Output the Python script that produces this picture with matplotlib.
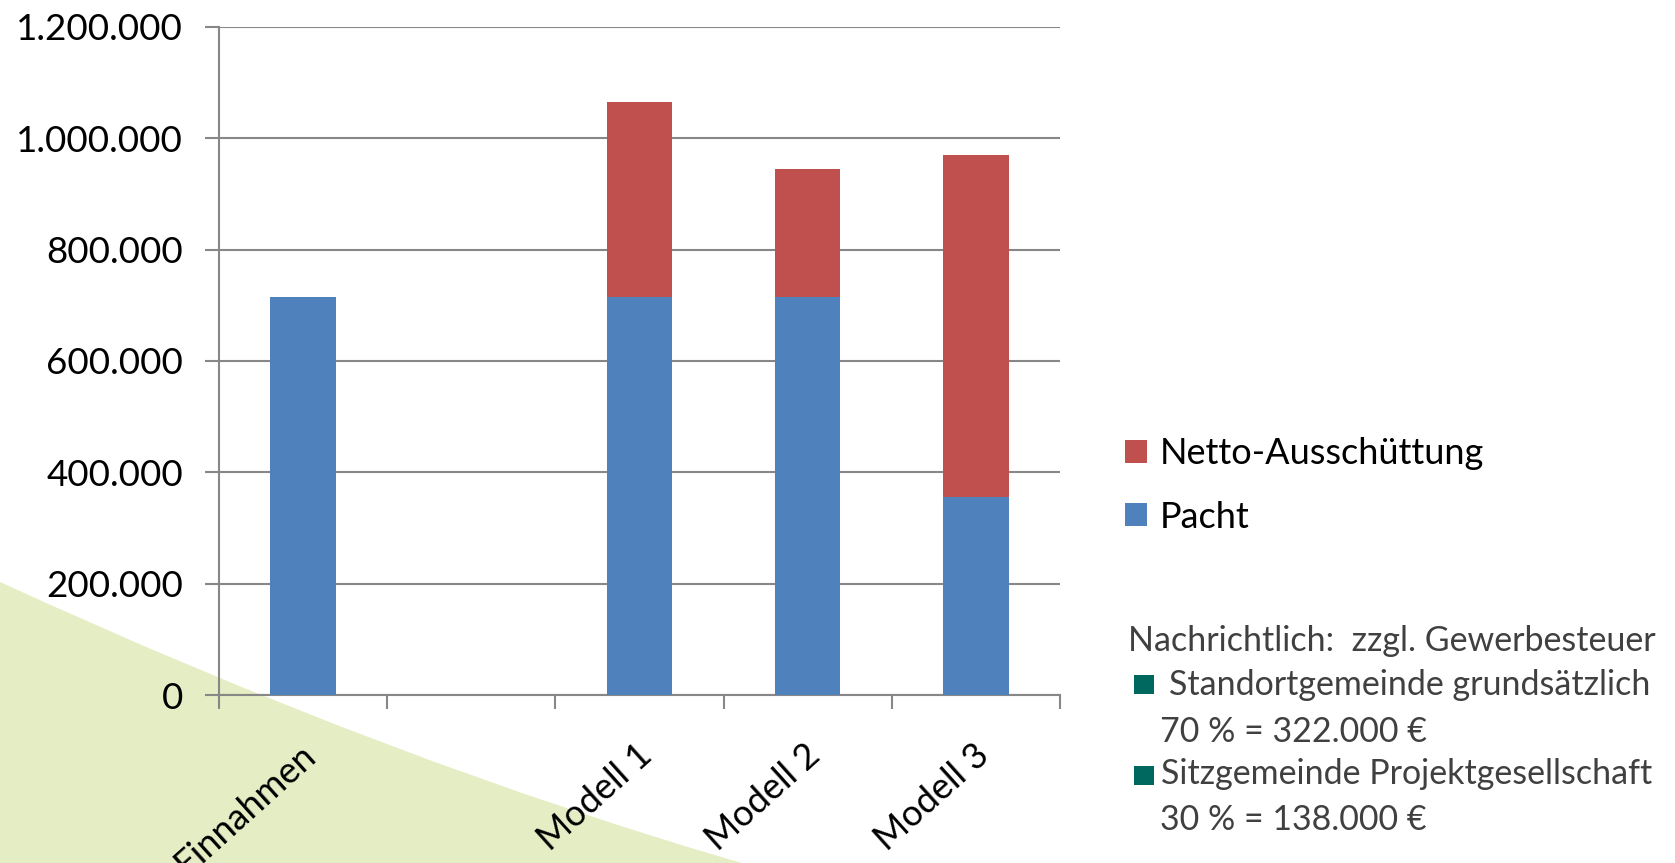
import numpy as np
import matplotlib.pyplot as plt
import matplotlib.transforms as mtrans
from matplotlib.patches import PathPatch, Rectangle
from matplotlib.path import Path
from matplotlib.ticker import FuncFormatter

plt.rcParams['font.family'] = ['Lato', 'DejaVu Sans']

# data
categories = ['Einnahmen', '', 'Modell 1', 'Modell 2', 'Modell 3']
pacht = [715000, 0, 715000, 715000, 355000]
netto = [0, 0, 350000, 230000, 615000]
y_ticks = [0, 200000, 400000, 600000, 800000, 1000000, 1200000]

note_head = 'Nachrichtlich:  zzgl. Gewerbesteuer'
note_items = ['Standortgemeinde grundsätzlich', 'Sitzgemeinde Projektgesellschaft']
note_values = ['70 % = 322.000 €', '30 % = 138.000 €']

W, H = 1675, 863
fig = plt.figure(figsize=(W / 100, H / 100), dpi=100)


def fx(px):
    return px / W


def fy(py):
    return 1 - py / H


# light green wedge in the lower left corner (slide background)
verts = [(fx(0), fy(582)), (fx(394), fy(763)), (fx(752), fy(866)),
         (fx(-2), fy(866)), (fx(-2), fy(582))]
codes = [Path.MOVETO, Path.CURVE3, Path.CURVE3, Path.LINETO, Path.CLOSEPOLY]
fig.patches.append(PathPatch(Path(verts, codes), transform=fig.transFigure,
                             facecolor='#e5edc4', edgecolor='none', zorder=-5))

ax = fig.add_axes([fx(219), fy(695), fx(1060) - fx(219), fy(27) - fy(695)])
ax.set_zorder(2)
ax.set_facecolor('none')

x = np.arange(len(categories))
ax.bar(x, pacht, width=0.39, color='#4f81bd', zorder=3, label='Pacht')
ax.bar(x, netto, bottom=pacht, width=0.39, color='#c0504d', zorder=3,
       label='Netto-Ausschüttung')

ax.set_xlim(-0.5, 4.5)
ax.set_ylim(0, 1200000)
ax.set_yticks(y_ticks)
ax.yaxis.set_major_formatter(FuncFormatter(lambda v, p: f'{v:,.0f}'.replace(',', '.')))
ax.grid(axis='y', color='#878787', linewidth=1.5)
ax.set_axisbelow(True)
for s in ['top', 'right']:
    ax.spines[s].set_visible(False)
for s in ['left', 'bottom']:
    ax.spines[s].set_color('#878787')
    ax.spines[s].set_linewidth(1.5)
ax.tick_params(axis='y', length=10, width=1.5, color='#878787', pad=16,
               labelsize=26.5, labelcolor='black')

# ticks between categories, labels at the centers
ax.set_xticks(np.arange(-0.5, 5, 1))
ax.set_xticklabels([])
ax.tick_params(axis='x', which='major', length=10, width=1.5, color='#878787')
ax.set_xticks(x, minor=True)
ax.set_xticklabels(categories, minor=True, rotation=42, ha='right', fontsize=26)
ax.tick_params(axis='x', which='minor', length=0, pad=31)
shift = mtrans.ScaledTranslation(0.19, 0, fig.dpi_scale_trans)
for lab in ax.get_xticklabels(minor=True):
    lab.set_transform(lab.get_transform() + shift)

handles, labels = ax.get_legend_handles_labels()
ax.legend(handles[::-1], labels[::-1], loc='upper left',
          bbox_to_anchor=(fx(1125), fy(437)), bbox_transform=fig.transFigure,
          frameon=False, fontsize=26, handlelength=0.6, handleheight=0.6,
          handletextpad=0.35, labelspacing=0.85, borderpad=0, borderaxespad=0)

# note on the right
txt_color = '#404040'
fs = 24.5
fig.text(fx(1128), fy(641), note_head, fontsize=fs, color=txt_color, va='center')
fig.text(fx(1169), fy(685), note_items[0], fontsize=fs, color=txt_color, va='center')
fig.text(fx(1160), fy(732), note_values[0], fontsize=fs, color=txt_color, va='center')
fig.text(fx(1161), fy(774), note_items[1], fontsize=fs, color=txt_color, va='center')
fig.text(fx(1160), fy(820), note_values[1], fontsize=fs, color=txt_color, va='center')
for top in [675, 766]:
    fig.patches.append(Rectangle((fx(1134), fy(top + 19)), 20 / W, 19 / H,
                                 transform=fig.transFigure, facecolor='#00685e',
                                 edgecolor='none'))

fig.savefig('out.png', dpi=100)
